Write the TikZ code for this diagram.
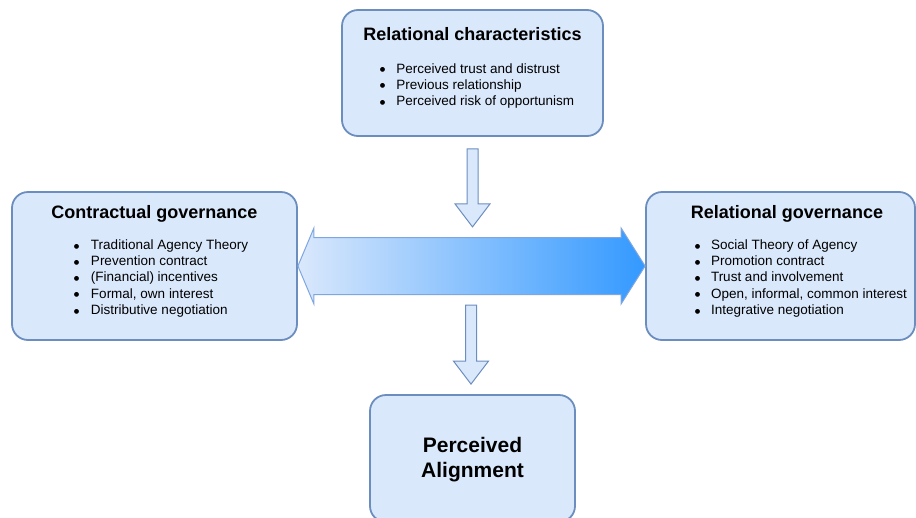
\documentclass[tikz,border=0pt]{standalone}
\usepackage{fontspec}
\setmainfont{Liberation Sans}
\newfontfamily\dotfont{DejaVu Sans}
\usetikzlibrary{calc,positioning}
\definecolor{boxfill}{HTML}{DAE8FC}
\definecolor{boxline}{HTML}{6C8EBF}
\definecolor{arrowline}{HTML}{7EA6E0}
\definecolor{arrowblue}{HTML}{3399FF}
% list bullet
\newcommand{\listdot}{\raisebox{1.3pt}{\dotfont\fontsize{6.3}{8}\selectfont ●}}
% block arrow pointing down, from the top of its shaft (#1) to its tip (#2)
\newcommand{\flowdown}[2]{%
  \path[flowarrow] let \p1=(#1), \p2=(#2) in
    (\x1-5.5pt,\y1) -- (\x1+5.5pt,\y1) -- (\x1+5.5pt,\y2+23pt)
    -- (\x1+17.5pt,\y2+23pt) -- (\x1,\y2) -- (\x1-17.5pt,\y2+23pt)
    -- (\x1-5.5pt,\y2+23pt) -- cycle;}

\begin{document}
\begin{tikzpicture}[x=1pt, y=-1pt,
  box/.style={draw=boxline, fill=boxfill, line width=1.8pt, rounded corners=16pt},
  title/.style={font=\fontsize{18}{21}\selectfont\bfseries, inner sep=0pt},
  items/.style={font=\fontsize{13.5}{16.2}\selectfont, align=left, inner sep=0pt},
  bigtitle/.style={font=\fontsize{21}{25}\selectfont\bfseries, align=center, inner sep=0pt},
  flowarrow/.style={draw=boxline, fill=boxfill, line width=1pt},
  bigarrow/.style={draw=arrowline, line width=1pt, left color=boxfill, right color=arrowblue}]
  \useasboundingbox (0,0) rectangle (916,517);

  % the four boxes
  \node[box, minimum width=261pt, minimum height=126pt] (relchar) at (472.5,73) {};
  \node[box, minimum width=285pt, minimum height=148pt] (contract) at (154.5,266) {};
  \node[box, minimum width=269pt, minimum height=148pt] (relgov) at (780.5,266) {};
  \node[box, minimum width=205pt, minimum height=127pt] (align) at (472.5,458.5) {};

  % titles
  \node[title, below=18pt of relchar.north] (relchartitle) {Relational characteristics};
  \node[title, below=14pt of contract.north] (contracttitle) {Contractual governance};
  \node[title, below=14pt of relgov.north, xshift=6.5pt] (relgovtitle) {Relational governance};
  \node[bigtitle, below=42.5pt of align.north] (aligntitle) {Perceived\\Alignment};

  % bullet lists
  \node[items, below right=54pt and 38.5pt of relchar.north west] (relcharlist)
    {\listdot\hspace{11pt}Perceived trust and distrust\\
     \listdot\hspace{11pt}Previous relationship\\
     \listdot\hspace{11pt}Perceived risk of opportunism};
  \node[items, below right=48.5pt and 62.5pt of contract.north west] (contractlist)
    {\listdot\hspace{11.7pt}Traditional Agency Theory\\
     \listdot\hspace{11.7pt}Prevention contract\\
     \listdot\hspace{11.7pt}(Financial) incentives\\
     \listdot\hspace{11.7pt}Formal, own interest\\
     \listdot\hspace{11.7pt}Distributive negotiation};
  \node[items, below right=48.5pt and 49.5pt of relgov.north west] (relgovlist)
    {\listdot\hspace{10.7pt}Social Theory of Agency\\
     \listdot\hspace{10.7pt}Promotion contract\\
     \listdot\hspace{10.7pt}Trust and involvement\\
     \listdot\hspace{10.7pt}Open, informal, common interest\\
     \listdot\hspace{10.7pt}Integrative negotiation};

  % double arrow between the two governance boxes
  \path[bigarrow] (contract.east) -- ++(16,-38) -- ++(0,9.5)
    -- ($(relgov.west)+(-24,-28.5)$) -- ++(0,-9.5) -- (relgov.west)
    -- ++(-24,38) -- ++(0,-9.5) -- ($(contract.east)+(16,28.5)$)
    -- ++(0,9.5) -- cycle;

  % arrows down
  \coordinate (topstart) at ($(relchar.south)+(0,12)$);
  \coordinate (toptip) at ($(relchar.south)+(0,90)$);
  \flowdown{topstart}{toptip}
  \coordinate (botstart) at ($(align.north)+(-1.5,-89)$);
  \coordinate (bottip) at ($(align.north)+(-1.5,-10)$);
  \flowdown{botstart}{bottip}
\end{tikzpicture}
\end{document}
